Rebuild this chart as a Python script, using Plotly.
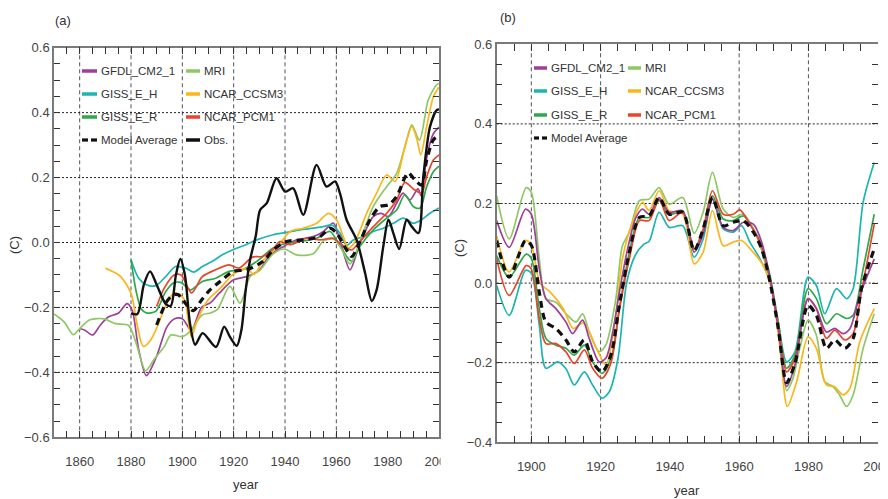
import plotly.graph_objects as go

W, H = 888, 499
OFF = 8  # the page body margin shifts the figure by this many pixels
FONT = "Liberation Sans, Arial, sans-serif"

# ---------------- colours ----------------
COLORS = {
    "GFDL_CM2_1": "#9E3F98",
    "GISS_E_H": "#1DB5B0",
    "GISS_E_R": "#2EA84B",
    "MRI": "#8DC865",
    "NCAR_CCSM3": "#FBB61A",
    "NCAR_PCM1": "#E8452C",
    "Model Average": "#111111",
    "Obs.": "#111111",
}

# ---------------- panel (a) data ----------------
A_GFDL_YR = [1860, 1862, 1865, 1868, 1871, 1875, 1878.5, 1880.5, 1883, 1886, 1890, 1894, 1897, 1900,
             1903.5, 1907.5, 1911, 1914.5, 1920, 1925, 1930, 1934, 1939.5, 1944.5, 1951, 1955, 1958.8,
             1961.4, 1965.3, 1969.2, 1974.4, 1977.5, 1980.3, 1983.5, 1986, 1988.7, 1991.8, 1993.2,
             1995, 1997.8, 2000]
A_GFDL = [-0.265, -0.27, -0.285, -0.255, -0.23, -0.218, -0.188, -0.21, -0.33, -0.41, -0.35, -0.26,
          -0.235, -0.235, -0.27, -0.2, -0.185, -0.155, -0.115, -0.105, -0.085, -0.04, -0.012, 0.008,
          0.018, 0.034, 0.06, 0.008, -0.084, -0.002, 0.08, 0.09, 0.08, 0.121, 0.152, 0.131, 0.165,
          0.142, 0.254, 0.335, 0.355]

A_GISSEH_YR = [1880, 1883, 1886, 1889.6, 1893.5, 1897.4, 1901.3, 1904.5, 1907.8, 1911.7, 1915.6,
               1919.5, 1924.7, 1929, 1935.4, 1940.6, 1945.8, 1951, 1955, 1958.2, 1961.4, 1964,
               1966.6, 1970.5, 1974.4, 1978.3, 1982.2, 1986.1, 1990, 1993.2, 1996.5, 2000]
A_GISSEH = [-0.053, -0.11, -0.13, -0.133, -0.105, -0.074, -0.079, -0.091, -0.074, -0.058, -0.038,
            -0.023, -0.007, 0.008, 0.024, 0.031, 0.039, 0.044, 0.049, 0.054, 0.029, -0.009, 0.008,
            0.018, 0.034, 0.044, 0.059, 0.075, 0.059, 0.07, 0.09, 0.106]

A_GISSER_YR = [1880, 1882, 1884, 1886, 1889.6, 1893.5, 1896.5, 1899.4, 1903.2, 1907.8, 1913, 1918.2,
               1923.4, 1929, 1935.4, 1940.6, 1945.8, 1952.3, 1957.5, 1960.1, 1964, 1966, 1969.2,
               1974.4, 1979.6, 1983.5, 1986.7, 1990, 1992.6, 1995.2, 1997.8, 2000]
A_GISSER = [-0.053, -0.15, -0.205, -0.217, -0.212, -0.152, -0.125, -0.123, -0.146, -0.12, -0.11,
            -0.089, -0.084, -0.058, -0.017, -0.002, 0.003, 0.013, 0.034, 0.008, -0.043, -0.058,
            -0.012, 0.039, 0.075, 0.1, 0.147, 0.111, 0.106, 0.172, 0.218, 0.235]

A_MRI_YR = [1850, 1854, 1857.5, 1860, 1864, 1869.5, 1874, 1879, 1882, 1885.7, 1889, 1893, 1895.5,
            1900, 1903, 1907.8, 1911, 1913.6, 1918.5, 1922.5, 1926.4, 1930.3, 1935.4, 1939.7, 1944.5,
            1951, 1955, 1959, 1962, 1965.3, 1969.2, 1974.4, 1979.6, 1983.5, 1987.4, 1989.4, 1992.4,
            1995.8, 1999, 2000]
A_MRI = [-0.22, -0.245, -0.284, -0.265, -0.238, -0.235, -0.25, -0.255, -0.31, -0.395, -0.36, -0.32,
         -0.285, -0.29, -0.274, -0.223, -0.217, -0.207, -0.135, -0.187, -0.105, -0.085, -0.035, -0.02,
         -0.038, -0.035, 0.005, 0.01, -0.02, -0.066, 0.003, 0.111, 0.172, 0.213, 0.316, 0.362, 0.315,
         0.439, 0.485, 0.49]

A_CCSM3_YR = [1870, 1873, 1876, 1880, 1882.5, 1884.8, 1887.7, 1890.3, 1894.2, 1896.8, 1899, 1901,
              1903.5, 1905.8, 1909.7, 1914.9, 1919.9, 1925, 1928, 1931.5, 1936.7, 1942, 1947.1,
              1952.3, 1956.9, 1960.1, 1962.7, 1964.7, 1967.3, 1971.8, 1975.7, 1979.6, 1982.9,
              1986.1, 1989.4, 1991.3, 1992.9, 1995.2, 1997.8, 2000]
A_CCSM3 = [-0.079, -0.09, -0.105, -0.156, -0.258, -0.32, -0.3, -0.258, -0.182, -0.156, -0.16, -0.18,
           -0.29, -0.24, -0.18, -0.14, -0.097, -0.08, -0.098, -0.055, -0.017, 0.034, 0.044, 0.059,
           0.09, 0.07, 0.018, -0.017, 0.003, 0.09, 0.152, 0.208, 0.188, 0.275, 0.357, 0.321, 0.27,
           0.357, 0.449, 0.478]

A_PCM1_YR = [1890, 1893, 1896.8, 1899.5, 1903.6, 1907.8, 1913, 1918.2, 1922.1, 1927.3, 1931.2,
             1935.1, 1938, 1942, 1948.4, 1953.6, 1958.8, 1961, 1964, 1966, 1969.2, 1974.4, 1979.6,
             1983.5, 1986.7, 1990, 1993.2, 1995.2, 1997.8, 2000]
A_PCM1 = [-0.197, -0.14, -0.1, -0.1, -0.155, -0.105, -0.084, -0.069, -0.079, -0.045, -0.043, -0.023,
          0.003, -0.007, 0.013, 0.008, 0.013, 0.0, -0.017, -0.023, 0.003, 0.049, 0.09, 0.131, 0.185,
          0.165, 0.152, 0.203, 0.254, 0.27]

A_AVG_YR = [1890, 1893.9, 1896.5, 1898.4, 1901.7, 1904.3, 1907.5, 1910.8, 1914.7, 1919.9, 1925.1,
            1931.5, 1935.4, 1940.6, 1947.1, 1953.6, 1957.5, 1960.1, 1964, 1966, 1969.2, 1973.1, 1977,
            1980.3, 1983.5, 1986.7, 1988, 1990.6, 1993.2, 1995.2, 1997.8, 2000]
A_AVG = [-0.254, -0.182, -0.161, -0.161, -0.192, -0.21, -0.177, -0.146, -0.12, -0.089, -0.084,
         -0.058, -0.023, 0.003, 0.008, 0.018, 0.044, 0.029, -0.023, -0.043, 0.003, 0.07, 0.111,
         0.116, 0.142, 0.2, 0.215, 0.193, 0.177, 0.254, 0.316, 0.33]

A_OBS_YR = [1880, 1882.5, 1885, 1887.4, 1890, 1893.6, 1895.5, 1897.5, 1899.2, 1901, 1903, 1905,
            1907.9, 1913.1, 1916.3, 1918.5, 1921.2, 1923, 1924.7, 1926.4, 1928.6, 1930.3, 1932.9,
            1936.7, 1940, 1943.2, 1947.1, 1952.3, 1956.2, 1959.5, 1961.4, 1964, 1967.9, 1971.2,
            1973.8, 1975.7, 1978.3, 1980.3, 1982.2, 1984.5, 1987.4, 1989.4, 1992, 1993.9, 1996.5,
            1999.1, 2000]
A_OBS = [-0.218, -0.22, -0.13, -0.089, -0.13, -0.19, -0.195, -0.1, -0.051, -0.1, -0.25, -0.315,
         -0.279, -0.322, -0.259, -0.29, -0.318, -0.27, -0.146, -0.053, 0.02, 0.1, 0.121, 0.198,
         0.157, 0.167, 0.085, 0.239, 0.172, 0.188, 0.152, 0.07, 0.008, -0.094, -0.18, -0.146,
         -0.012, 0.07, 0.029, -0.02, 0.07, 0.049, 0.029, 0.203, 0.357, 0.408, 0.41]

# ---------------- panel (b) data ----------------
B_GFDL_YR = [1890, 1893.6, 1898.3, 1900, 1902.3, 1904.2, 1907.1, 1910, 1911.9, 1914.8, 1916.7,
             1919.6, 1921.5, 1923.5, 1925.4, 1927.8, 1930.2, 1932.1, 1934, 1936.9, 1939.8, 1943.7,
             1947, 1949.6, 1952.3, 1955.4, 1958.3, 1961.2, 1964.1, 1966.5, 1968.9, 1971.3, 1973.7,
             1976.1, 1979.9, 1982.3, 1985.2, 1987.6, 1990, 1992, 1994.8, 1999]
B_GFDL = [0.157, 0.09, 0.186, 0.173, 0.036, -0.039, -0.064, -0.098, -0.127, -0.093, -0.139, -0.198,
          -0.189, -0.123, -0.023, 0.086, 0.165, 0.186, 0.173, 0.215, 0.178, 0.182, 0.078, 0.123,
          0.211, 0.14, 0.132, 0.153, 0.148, 0.103, 0.011, -0.114, -0.26, -0.206, -0.039, -0.064,
          -0.123, -0.114, -0.127, -0.114, -0.031, 0.061]

B_GISSEH_YR = [1890, 1893.6, 1898.3, 1900, 1902.3, 1904.2, 1907.6, 1910, 1912.4, 1915.3, 1917.7,
               1920.4, 1922.5, 1925, 1927.5, 1930, 1932.5, 1934, 1936.9, 1939.8, 1943.7, 1947,
               1949.6, 1952.3, 1955.4, 1958.3, 1960.7, 1963.1, 1966, 1968.9, 1971.3, 1973.7, 1976.1,
               1979.9, 1982.3, 1984.7, 1988.1, 1991, 1992.9, 1995.8, 1999]
B_GISSEH = [-0.006, -0.081, 0.032, 0.025, -0.106, -0.214, -0.198, -0.215, -0.256, -0.223, -0.256,
            -0.289, -0.273, -0.19, 0.0, 0.07, 0.098, 0.105, 0.178, 0.14, 0.144, 0.065, 0.111, 0.211,
            0.136, 0.128, 0.144, 0.103, 0.061, 0.003, -0.098, -0.198, -0.173, 0.015, -0.006, -0.077,
            -0.014, -0.039, -0.014, 0.203, 0.303]

B_GISSER_YR = [1890, 1893.6, 1898.5, 1900, 1902.3, 1904.2, 1907.1, 1910, 1912.4, 1915.3, 1917.7,
               1920.4, 1923, 1925.4, 1928.3, 1931.2, 1934, 1936.9, 1939.8, 1943.7, 1947, 1949.6,
               1952.3, 1955.4, 1958.3, 1961.2, 1964.1, 1966.5, 1968.9, 1971.3, 1973.7, 1976.1,
               1979.9, 1982.3, 1985.2, 1988.1, 1991, 1992.9, 1995.8, 1999]
B_GISSER = [0.069, 0.015, 0.073, 0.062, -0.064, -0.139, -0.156, -0.164, -0.181, -0.156, -0.198,
            -0.227, -0.189, -0.064, 0.078, 0.165, 0.165, 0.207, 0.173, 0.178, 0.086, 0.123, 0.219,
            0.161, 0.157, 0.169, 0.136, 0.094, 0.019, -0.098, -0.214, -0.181, -0.014, -0.039,
            -0.102, -0.077, -0.089, -0.081, 0.036, 0.173]

B_MRI_YR = [1890, 1893.6, 1898.5, 1900, 1902.3, 1904.2, 1907.1, 1910, 1912.9, 1914.8, 1916.7,
            1919.6, 1921.5, 1924.4, 1926.3, 1928.3, 1931.2, 1934, 1936.9, 1939.8, 1943.7, 1947,
            1949.6, 1952.3, 1955.4, 1958.3, 1961.2, 1965, 1968.9, 1971.8, 1973.7, 1975.5, 1977.5,
            1979.9, 1982.3, 1984.7, 1987.1, 1989, 1991, 1992.9, 1995.8, 1999]
B_MRI = [0.219, 0.111, 0.24, 0.228, 0.061, -0.039, -0.048, -0.077, -0.098, -0.077, -0.122, -0.172,
         -0.156, -0.039, 0.094, 0.128, 0.207, 0.211, 0.24, 0.198, 0.215, 0.125, 0.178, 0.278, 0.186,
         0.165, 0.173, 0.119, 0.003, -0.131, -0.27, -0.24, -0.164, -0.093, -0.131, -0.248, -0.26,
         -0.281, -0.31, -0.281, -0.164, -0.077]

B_CCSM3_YR = [1890, 1893.6, 1898.3, 1900, 1902.5, 1905.4, 1909.2, 1912.1, 1915, 1918.8, 1921.5,
              1924.4, 1926.3, 1929.2, 1932.1, 1934, 1936.9, 1939.8, 1943.7, 1947, 1949.6, 1952.3,
              1955.4, 1958.3, 1960.7, 1964, 1967, 1969.4, 1971.8, 1973.9, 1976.6, 1979.9, 1982.3,
              1985.2, 1987.5, 1990, 1992, 1994.8, 1999]
B_CCSM3 = [0.119, 0.028, 0.107, 0.095, 0.0, -0.022, -0.064, -0.114, -0.1, -0.164, -0.206, -0.081,
           0.061, 0.153, 0.203, 0.182, 0.232, 0.182, 0.173, 0.048, 0.078, 0.182, 0.094, 0.103,
           0.107, 0.078, 0.044, -0.014, -0.164, -0.31, -0.248, -0.135, -0.164, -0.256, -0.26,
           -0.281, -0.264, -0.148, -0.064]

B_PCM1_YR = [1890, 1893.6, 1898.5, 1900, 1902.3, 1904.2, 1907.1, 1910, 1912.4, 1915.3, 1917.7,
             1920.4, 1923, 1925.4, 1928.3, 1931.2, 1934, 1936.9, 1939.8, 1943.7, 1947, 1949.6,
             1952.3, 1955.4, 1958.3, 1960.2, 1963.1, 1966, 1968.9, 1971.3, 1973.7, 1976.1, 1979.9,
             1982.3, 1985.2, 1987.6, 1990.5, 1992.9, 1995.3, 1999]
B_PCM1 = [0.061, -0.031, 0.044, 0.035, -0.089, -0.152, -0.152, -0.173, -0.202, -0.168, -0.214,
          -0.239, -0.2, -0.068, 0.061, 0.157, 0.157, 0.211, 0.157, 0.178, 0.086, 0.136, 0.232, 0.173,
          0.173, 0.184, 0.148, 0.103, 0.011, -0.106, -0.223, -0.189, -0.039, -0.064, -0.139,
          -0.118, -0.143, -0.127, -0.023, 0.148]

B_AVG_YR = [1890, 1893.6, 1898.3, 1900, 1902.3, 1904.2, 1907.1, 1910, 1912.4, 1915.3, 1917.7,
            1920.4, 1923, 1925.4, 1928.3, 1931.2, 1934, 1936.9, 1939.8, 1943.7, 1947, 1949.6,
            1952.3, 1955.4, 1958.3, 1961.2, 1964.1, 1966.5, 1968.9, 1971.3, 1973.7, 1976.1, 1979.9,
            1982.3, 1985.2, 1987.6, 1990.5, 1992.9, 1995.3, 1999]
B_AVG = [0.107, 0.015, 0.107, 0.095, -0.023, -0.098, -0.114, -0.143, -0.173, -0.143, -0.198,
         -0.223, -0.18, -0.056, 0.078, 0.165, 0.169, 0.215, 0.173, 0.178, 0.082, 0.136, 0.215,
         0.144, 0.153, 0.157, 0.128, 0.086, 0.003, -0.114, -0.25, -0.202, -0.056, -0.081, -0.164,
         -0.143, -0.164, -0.139, -0.014, 0.086]

# ---------------- axes / ticks ----------------
A_XRANGE = [1850, 2000]
A_YRANGE = [-0.6, 0.6]
B_XRANGE = [1890, 2000]
B_YRANGE = [-0.4, 0.6]
A_XTICKS = [1860, 1880, 1900, 1920, 1940, 1960, 1980, 2000]
B_XTICKS = [1900, 1920, 1940, 1960, 1980, 2000]
A_YTICKS = [-0.6, -0.4, -0.2, 0.0, 0.2, 0.4, 0.6]
B_YTICKS = [-0.4, -0.2, 0.0, 0.2, 0.4, 0.6]
A_VGRID = [1860, 1880, 1900, 1920, 1940, 1960]
B_VGRID = [1900, 1920, 1960, 1980]
A_HGRID = [-0.4, -0.2, 0.0, 0.2, 0.4]
B_HGRID = [-0.2, 0.0, 0.2, 0.4]

A_SERIES = [
    ("GFDL_CM2_1", A_GFDL_YR, A_GFDL),
    ("GISS_E_H", A_GISSEH_YR, A_GISSEH),
    ("GISS_E_R", A_GISSER_YR, A_GISSER),
    ("MRI", A_MRI_YR, A_MRI),
    ("NCAR_CCSM3", A_CCSM3_YR, A_CCSM3),
    ("NCAR_PCM1", A_PCM1_YR, A_PCM1),
    ("Obs.", A_OBS_YR, A_OBS),
    ("Model Average", A_AVG_YR, A_AVG),
]
B_SERIES = [
    ("GISS_E_H", B_GISSEH_YR, B_GISSEH),
    ("GISS_E_R", B_GISSER_YR, B_GISSER),
    ("MRI", B_MRI_YR, B_MRI),
    ("NCAR_CCSM3", B_CCSM3_YR, B_CCSM3),
    ("NCAR_PCM1", B_PCM1_YR, B_PCM1),
    ("GFDL_CM2_1", B_GFDL_YR, B_GFDL),
    ("Model Average", B_AVG_YR, B_AVG),
]


def px_x(p):
    return (p - OFF) / W


def px_y(p):
    return 1 - (p - OFF) / H


fig = go.Figure()


def style(name):
    if name == "Model Average":
        return dict(color=COLORS[name], width=3.2, dash="7px,5px")
    if name == "Obs.":
        return dict(color=COLORS[name], width=2.4)
    return dict(color=COLORS[name], width=1.7)


for name, xs, ys in A_SERIES:
    ln = style(name)
    fig.add_trace(go.Scatter(x=xs, y=ys, mode="lines", name=name, showlegend=False,
                             line=dict(shape="spline", smoothing=0.8, **ln),
                             xaxis="x", yaxis="y"))
for name, xs, ys in B_SERIES:
    ln = style(name)
    fig.add_trace(go.Scatter(x=xs, y=ys, mode="lines", name=name, showlegend=False,
                             line=dict(shape="spline", smoothing=0.8, **ln),
                             xaxis="x2", yaxis="y2"))
# carrier for the right-hand tick axis of panel (b)
fig.add_trace(go.Scatter(x=[None], y=[None], mode="lines", showlegend=False,
                         xaxis="x2", yaxis="y3", hoverinfo="skip"))

AXLINE = "#7a7a7a"
TICKC = "#333333"
TFONT = dict(family=FONT, size=13, color="#444444")

common_x = dict(showgrid=False, zeroline=False, showline=True, linecolor=AXLINE, linewidth=1.5,
                ticks="inside", ticklen=7, tickcolor=TICKC, tickwidth=1, mirror="ticks",
                tickfont=TFONT, ticklabelstandoff=11, automargin=False,
                minor=dict(dtick=5, ticks="inside", ticklen=7, tickcolor=TICKC, tickwidth=1,
                           showgrid=False))
common_y = dict(showgrid=False, zeroline=False, showline=True, linecolor=AXLINE, linewidth=1.5,
                ticks="inside", ticklen=6, tickcolor=TICKC, tickwidth=1, automargin=False,
                tickfont=TFONT, tickformat=".1f",
                minor=dict(dtick=0.05, ticks="inside", ticklen=6, tickcolor=TICKC, tickwidth=1,
                           showgrid=False))

fig.update_layout(
    width=W, height=H, margin=dict(l=0, r=0, t=0, b=0, pad=0, autoexpand=False),
    paper_bgcolor="white", plot_bgcolor="white", showlegend=False,
    xaxis=dict(domain=[px_x(54), px_x(439)], range=A_XRANGE, anchor="y",
               tickvals=A_XTICKS, **common_x),
    yaxis=dict(domain=[px_y(437.3), px_y(47.7)], range=A_YRANGE, anchor="x",
               tickvals=A_YTICKS, mirror="ticks", **common_y),
    xaxis2=dict(domain=[px_x(496.7), px_x(877.7)], range=B_XRANGE, anchor="y2",
                tickvals=B_XTICKS, **common_x),
    yaxis2=dict(domain=[px_y(442.3), px_y(44.3)], range=B_YRANGE, anchor="x2",
                tickvals=B_YTICKS, mirror=False, **common_y),
    yaxis3=dict(range=B_YRANGE, overlaying="y2", side="right", anchor="x2", automargin=False,
                showgrid=False, zeroline=False, showline=False, showticklabels=False,
                ticks="inside", ticklen=6, tickcolor=TICKC, tickwidth=1, tickvals=B_YTICKS,
                minor=dict(dtick=0.05, ticks="inside", ticklen=6, tickcolor=TICKC, tickwidth=1)),
)

shapes = []
for yr in A_VGRID:
    shapes.append(dict(type="line", xref="x", yref="y domain", x0=yr, x1=yr, y0=0, y1=1,
                       line=dict(color="#555555", width=1, dash="4px,3px"), layer="below"))
for v in A_HGRID:
    shapes.append(dict(type="line", xref="x domain", yref="y", x0=0, x1=1, y0=v, y1=v,
                       line=dict(color="#222222", width=1, dash="2px,2px"), layer="below"))
for yr in B_VGRID:
    shapes.append(dict(type="line", xref="x2", yref="y2 domain", x0=yr, x1=yr, y0=0, y1=1,
                       line=dict(color="#555555", width=1, dash="4px,3px"), layer="below"))
for v in B_HGRID:
    shapes.append(dict(type="line", xref="x2 domain", yref="y2", x0=0, x1=1, y0=v, y1=v,
                       line=dict(color="#222222", width=1, dash="2px,2px"), layer="below"))

# the reference crops the last tick label of panel (a) at the panel edge
shapes.append(dict(type="rect", xref="paper", yref="paper", x0=px_x(440.5), x1=px_x(458),
                   y0=px_y(475), y1=px_y(448), fillcolor="white", line=dict(width=0),
                   layer="above"))

annotations = []
LFONT = dict(family=FONT, size=11.5, color="#333333")


def legend_entry(name, lx0, lx1, ty):
    st = style(name)
    if name == "Model Average":
        mid = (lx0 + lx1) / 2
        for a, b in [(lx0, mid - 1.5), (mid + 1.5, lx1)]:
            shapes.append(dict(type="line", xref="paper", yref="paper",
                               x0=px_x(a), x1=px_x(b), y0=px_y(ty), y1=px_y(ty),
                               line=dict(color=st["color"], width=3.2)))
    else:
        shapes.append(dict(type="line", xref="paper", yref="paper",
                           x0=px_x(lx0), x1=px_x(lx1), y0=px_y(ty), y1=px_y(ty),
                           line=dict(color=st["color"], width=3.5)))
    annotations.append(dict(text=name, xref="paper", yref="paper", x=px_x(lx1 + 2),
                            y=px_y(ty), xanchor="left", yanchor="middle", showarrow=False,
                            font=LFONT))


A_LEG = [("GFDL_CM2_1", 0, 0), ("GISS_E_H", 0, 1), ("GISS_E_R", 0, 2), ("Model Average", 0, 3),
         ("MRI", 1, 0), ("NCAR_CCSM3", 1, 1), ("NCAR_PCM1", 1, 2), ("Obs.", 1, 3)]
B_LEG = [("GFDL_CM2_1", 0, 0), ("GISS_E_H", 0, 1), ("GISS_E_R", 0, 2), ("Model Average", 0, 3),
         ("MRI", 1, 0), ("NCAR_CCSM3", 1, 1), ("NCAR_PCM1", 1, 2)]
A_LEG_COLS = [(82, 97), (186, 200)]
A_LEG_ROWS = [71, 94, 117, 140]
B_LEG_COLS = [(534, 547), (628, 641)]
B_LEG_ROWS = [68, 91, 115, 138]

for name, c, r in A_LEG:
    legend_entry(name, A_LEG_COLS[c][0], A_LEG_COLS[c][1], A_LEG_ROWS[r])
for name, c, r in B_LEG:
    legend_entry(name, B_LEG_COLS[c][0], B_LEG_COLS[c][1], B_LEG_ROWS[r])

BIG = dict(family=FONT, size=13, color="#333333")


def label(text, x, y, angle=0):
    return dict(text=text, xref="paper", yref="paper", x=px_x(x), y=px_y(y), showarrow=False,
                xanchor="center", yanchor="middle", textangle=angle, font=BIG)


annotations += [
    label("(a)", 63, 20),
    label("(b)", 508, 17),
    label("(C)", 15, 245, -90),
    label("(C)", 459, 248, -90),
    label("year", 246, 484),
    label("year", 687, 490),
]

fig.update_layout(shapes=shapes, annotations=annotations)
fig.write_html("out.html")
